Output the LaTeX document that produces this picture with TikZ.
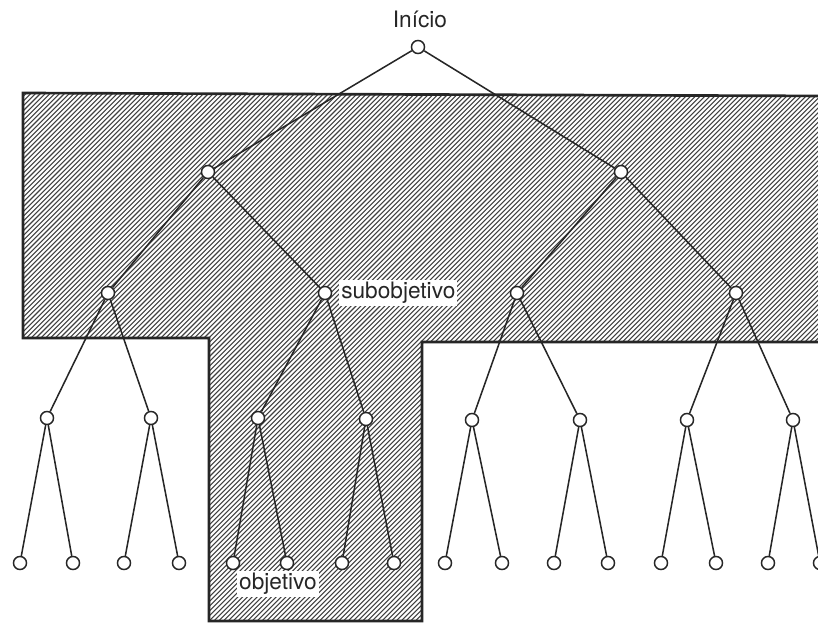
\documentclass[tikz,border=0pt]{standalone}
\usepackage{fontspec}
\setmainfont{TeX Gyre Heros}
\begin{document}
\begin{tikzpicture}[x=0.75pt,y=-0.75pt,
  hatch/.style={line width=0.8pt,black!75},
  region/.style={line width=2pt,black!85},
  st/.style={circle,draw=black!85,fill=white,line width=1.1pt,minimum size=9.8pt,inner sep=0pt},
  edge/.style={line width=1.15pt,black!85},
  lbl/.style={font=\fontsize{17}{20}\selectfont,text=black!85,inner sep=1.5pt}]
\useasboundingbox (0,0) rectangle (818,624);
\clip (0,0) rectangle (818,624);
% hatched region
\begin{scope}
  \clip (23,93) -- (830,96) -- (830,342) -- (422,342) -- (422,621) -- (209,621) -- (209,338) -- (23,338) -- cycle;
  \foreach \c in {110,114.8,...,1465} \draw[hatch] (0,\c) -- (\c,0);
\end{scope}
\draw[region] (830,96) -- (23,93) -- (23,338) -- (209,338) -- (209,621) -- (422,621) -- (422,342) -- (830,342);
% nodes
\node[st] (R) at (418,47) {};
\node[st] (A) at (208,172) {};
\node[st] (B) at (621,172) {};
\node[st] (A1) at (108,293) {};
\node[st] (A2) at (325,293) {};
\node[st] (B1) at (517,293) {};
\node[st] (B2) at (736,293) {};
\node[st] (a11) at (47,418) {};
\node[st] (a12) at (151,418) {};
\node[st] (a21) at (258,418) {};
\node[st] (a22) at (366,419) {};
\node[st] (b11) at (472,420) {};
\node[st] (b12) at (580,420) {};
\node[st] (b21) at (687,420) {};
\node[st] (b22) at (793,420) {};
\foreach \n/\x in {l1/20,l2/73,l3/124,l4/179,l5/233,l6/287,l7/342,l8/394,l9/445,l10/502,l11/554,l12/608,l13/661,l14/716,l15/768,l16/820}
  \node[st] (\n) at (\x,563) {};
% edges
\foreach \p/\c in {R/A,R/B,A/A1,A/A2,B/B1,B/B2,A1/a11,A1/a12,A2/a21,A2/a22,B1/b11,B1/b12,B2/b21,B2/b22,
  a11/l1,a11/l2,a12/l3,a12/l4,a21/l5,a21/l6,a22/l7,a22/l8,b11/l9,b11/l10,b12/l11,b12/l12,b21/l13,b21/l14,b22/l15,b22/l16}
  \draw[edge] (\p) -- (\c);
% labels
\node[lbl] (tInicio) at (420,19) {Início};
\node[lbl,fill=white,anchor=west] (tSub) at (339,293) {subobjetivo};
\node[lbl,fill=white] (tObj) at (278,584) {objetivo};
\end{tikzpicture}
\end{document}
